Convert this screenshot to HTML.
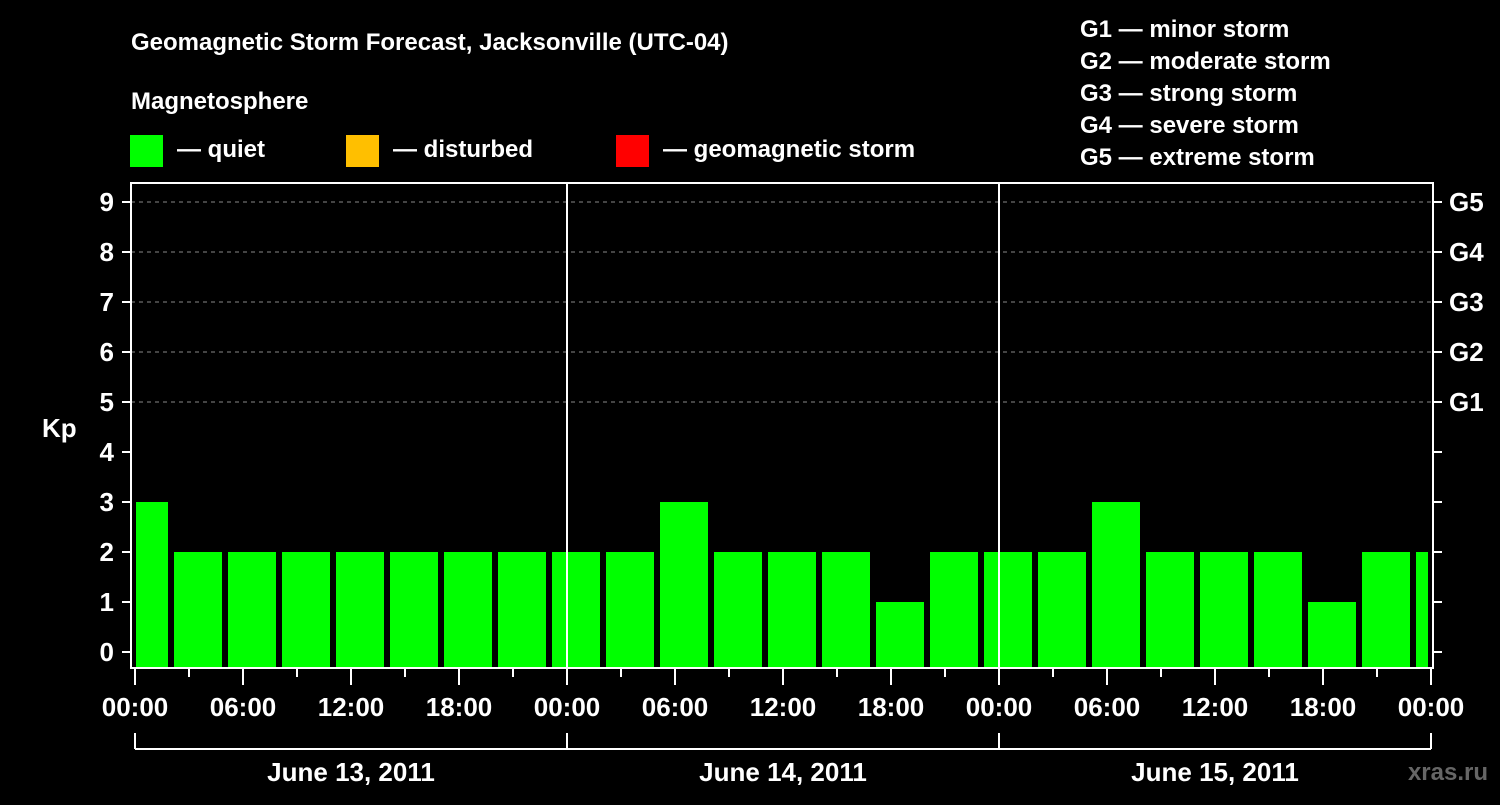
<!DOCTYPE html>
<html><head><meta charset="utf-8"><style>
body{margin:0;background:#000;}
svg text{font-family:"Liberation Sans",sans-serif;font-weight:bold;fill:#fff;}
</style></head><body>
<svg id="c" width="1500" height="800" xmlns="http://www.w3.org/2000/svg">
<rect width="1500" height="800" fill="#000"/>
<text x="131" y="50" font-size="24">Geomagnetic Storm Forecast, Jacksonville (UTC-04)</text>
<text x="131" y="109" font-size="24">Magnetosphere</text>
<rect x="130" y="135" width="33" height="32" fill="#00ff00"/>
<text x="177" y="157" font-size="24">— quiet</text>
<rect x="346" y="135" width="33" height="32" fill="#ffbf00"/>
<text x="393" y="157" font-size="24">— disturbed</text>
<rect x="616" y="135" width="33" height="32" fill="#ff0000"/>
<text x="663" y="157" font-size="24">— geomagnetic storm</text>
<g font-size="24">
<text x="1080" y="37">G1 — minor storm</text>
<text x="1080" y="69">G2 — moderate storm</text>
<text x="1080" y="101">G3 — strong storm</text>
<text x="1080" y="133">G4 — severe storm</text>
<text x="1080" y="165">G5 — extreme storm</text>
</g>
<text x="42" y="437" font-size="26">Kp</text>
<text x="1488" y="780" font-size="24" text-anchor="end" fill="#666" style="fill:#666">xras.ru</text>
<g id="plot"></g>
</svg>
<script>
const kpValues=[3,2,2,2,2,2,2,2,2,2,3,2,2,2,1,2,2,2,3,2,2,2,1,2,2];
const yTicks=[0,1,2,3,4,5,6,7,8,9];
const gLabels=["G1","G2","G3","G4","G5"];
const gLevels=[5,6,7,8,9];
const xTickLabels=["00:00","06:00","12:00","18:00","00:00","06:00","12:00","18:00","00:00","06:00","12:00","18:00","00:00"];
const dayLabels=["June 13, 2011","June 14, 2011","June 15, 2011"];
const NS="http://www.w3.org/2000/svg";
const L=131,R=1433,T=183,B=668,X0=135,PXH=18;
const yS=v=>652-50*v;
const xS=h=>X0+PXH*h;
const g=document.getElementById('plot');
function mk(t,a,txt){const e=document.createElementNS(NS,t);for(const k in a)e.setAttribute(k,a[k]);if(txt!==undefined)e.textContent=txt;g.appendChild(e);return e;}
yTicks.forEach(v=>{
 if(v>=5){const gl=mk('line',{x1:L,x2:R,y1:yS(v),y2:yS(v),stroke:'#888','stroke-dasharray':'4,4','stroke-width':1});
 
 }
 const t=mk('line',{x1:122,x2:L,y1:yS(v),y2:yS(v),stroke:'#fff','stroke-width':2});
 
 
 const t2=mk('line',{x1:R,x2:1442,y1:yS(v),y2:yS(v),stroke:'#fff','stroke-width':2});
 
 
 const l=mk('text',{x:114,y:yS(v)+9,'font-size':26,'text-anchor':'end'},String(v));
 
 
});
gLabels.forEach((s,i)=>{
 const l=mk('text',{x:1449,y:yS(gLevels[i])+9,'font-size':26},s);
 
 
});
kpValues.forEach((v,i)=>{
 let x1=xS(-1+3*i)+3, x2=x1+48;
 x1=Math.max(x1,L+5); x2=Math.min(x2,R-5);
 const r=mk('rect',{x:x1,y:yS(v),width:x2-x1,height:B-1-yS(v),fill:'#00ff00'});
 
 
});
[1,2].forEach(d=>{const l=mk('line',{x1:xS(24*d),x2:xS(24*d),y1:T,y2:B,stroke:'#fff','stroke-width':2});
 
 });
const fr=mk('rect',{x:L,y:T,width:R-L,height:B-T,fill:'none',stroke:'#fff','stroke-width':2});


for(let h=0;h<=72;h+=3){
 const major=h%6===0;
 const t=mk('line',{x1:xS(h),x2:xS(h),y1:B,y2:major?685:677,stroke:'#fff','stroke-width':2});
 
 
}
xTickLabels.forEach((s,i)=>{
 const l=mk('text',{x:xS(6*i),y:716,'font-size':26,'text-anchor':'middle'},s);
 
 
});
const br=mk('line',{x1:xS(0),x2:xS(72),y1:749,y2:749,stroke:'#fff','stroke-width':2});


for(let d=0;d<=3;d++){const l=mk('line',{x1:xS(24*d),x2:xS(24*d),y1:733,y2:749,stroke:'#fff','stroke-width':2});
 
 }
dayLabels.forEach((s,i)=>{
 const l=mk('text',{x:xS(24*i+12),y:781,'font-size':26,'text-anchor':'middle'},s);
 
 
});
</script>
</body></html>
